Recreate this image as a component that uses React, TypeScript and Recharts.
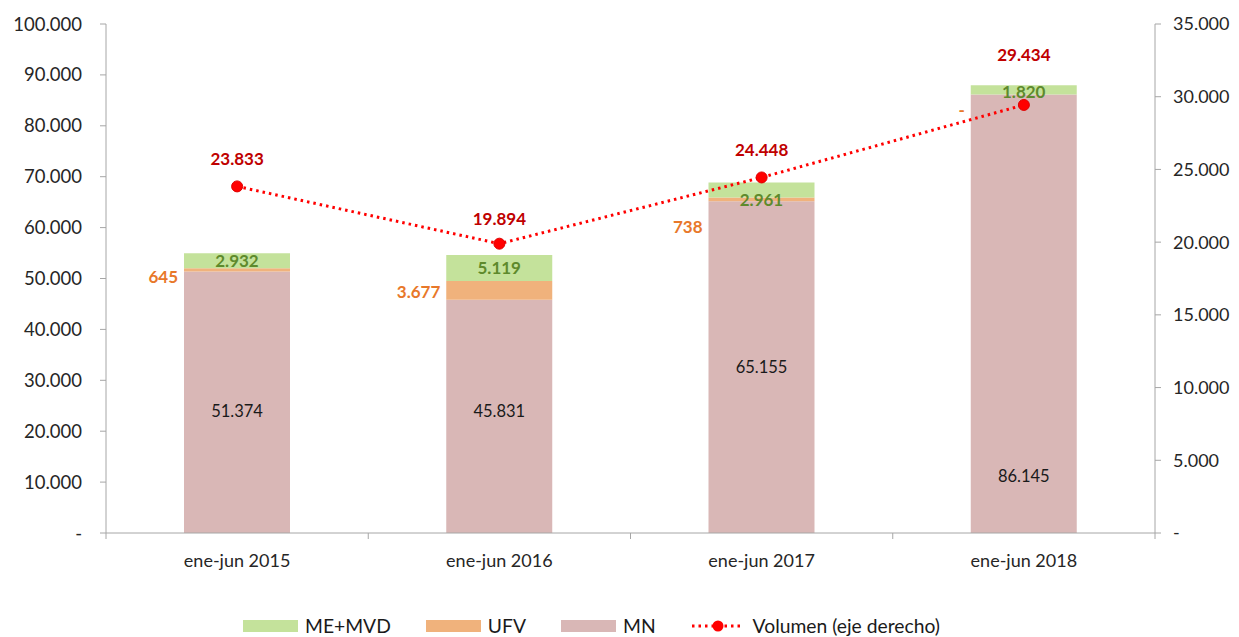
import { Bar, ComposedChart, LabelList, Line, XAxis, YAxis } from "recharts";

// Values
const periods = ["ene-jun 2015", "ene-jun 2016", "ene-jun 2017", "ene-jun 2018"];
const mn = [51374, 45831, 65155, 86145];
const ufv = [645, 3677, 738, 0];
const meMvd = [2932, 5119, 2961, 1820];
const volumen = [23833, 19894, 24448, 29434];

const leftTicks = [0, 10000, 20000, 30000, 40000, 50000, 60000, 70000, 80000, 90000, 100000];
const rightTicks = [0, 5000, 10000, 15000, 20000, 25000, 30000, 35000];

// label nudges (Excel had them dragged by hand)
const mnDy = [9, -5, 0, 162];
const ufvDy = [7, 2, 28, 15];
const meDy = [0, 0, 10, 2];
const volDy = [-27, -25, -27, -50];

const data = periods.map((p, i) => ({
  p,
  mn: mn[i],
  ufv: ufv[i],
  me: meMvd[i],
  vol: volumen[i],
}));

const FONT = "Lato, 'Open Sans', sans-serif";
const C_ME = "#C4E29B";
const C_UFV = "#F0B27C";
const C_MN = "#D9B7B6";
const AXIS = "#A6A6A6";

const W = 1231;
const H = 580;
const LEFT = 98;
const RIGHT_W = 84;
const BAND = (W - LEFT - RIGHT_W) / periods.length;

const fmt = (v: number) => (v === 0 ? "-" : String(v).replace(/\B(?=(\d{3})+(?!\d))/g, "."));

function CatTick(props: any) {
  const { x, y, payload, index } = props;
  return (
    <g>
      <line x1={x - BAND / 2} x2={x - BAND / 2} y1={y - 8} y2={y - 2} stroke={AXIS} />
      {index === periods.length - 1 && (
        <line x1={x + BAND / 2} x2={x + BAND / 2} y1={y - 8} y2={y - 2} stroke={AXIS} />
      )}
      <text x={x} y={y + 26} textAnchor="middle" fill="#262626" fontSize={18} fontFamily={FONT}>
        {payload.value}
      </text>
    </g>
  );
}

// MN bar labels, plus the UFV labels placed just above the MN segment
// (a zero-height UFV bar gets no label of its own)
function MnLabel(props: any) {
  const { x, y, width, height, value, index } = props;
  const pxPerUnit = height / mn[index];
  const ufvMid = y - (ufv[index] * pxPerUnit) / 2;
  return (
    <g>
      <text x={x + width / 2} y={y + height / 2 + mnDy[index]} dy={6} textAnchor="middle" fill="#1a1a1a" fontSize={16.5} fontFamily={FONT}>
        {fmt(value)}
      </text>
      <text x={x - 6} y={ufvMid + ufvDy[index]} dy={6} textAnchor="end" fill="#E8782A" fontSize={17} fontWeight="bold" fontFamily={FONT}>
        {fmt(ufv[index])}
      </text>
    </g>
  );
}

function MeLabel(props: any) {
  const { x, y, width, height, value, index } = props;
  return (
    <text x={x + width / 2} y={y + height / 2 + meDy[index]} dy={6} textAnchor="middle" fill="#5E8A2C" fontSize={17} fontWeight="bold" fontFamily={FONT}>
      {fmt(value)}
    </text>
  );
}

function VolLabel(props: any) {
  const { x, y, value, index } = props;
  return (
    <text x={x} y={y + volDy[index]} dy={6} textAnchor="middle" fill="#C00000" fontSize={17} fontWeight="bold" fontFamily={FONT}>
      {fmt(value)}
    </text>
  );
}

function LegendRow() {
  const item = { display: "flex", alignItems: "center", marginRight: 35 } as const;
  const sw = (c: string) => ({ width: 55, height: 12, background: c, marginRight: 7 });
  return (
    <div style={{ position: "absolute", left: 235, top: 606, display: "flex", fontFamily: FONT, fontSize: 19.3, color: "#1a1a1a" }}>
      <div style={item}><div style={sw(C_ME)} />ME+MVD</div>
      <div style={item}><div style={sw(C_UFV)} />UFV</div>
      <div style={item}><div style={sw(C_MN)} />MN</div>
      <div style={item}>
        <svg width={54} height={14} style={{ marginRight: 8 }}>
          <line x1={1} x2={53} y1={7} y2={7} stroke="#FF0000" strokeWidth={3} strokeDasharray="2.5 4" />
          <circle cx={27} cy={7} r={5.5} fill="#FF0000" />
        </svg>
        Volumen (eje derecho)
      </div>
    </div>
  );
}

export default function App() {
  return (
    <div style={{ position: "relative", width: W, height: 629 }}>
      <ComposedChart width={W} height={H} data={data} margin={{ top: 16, right: 0, bottom: 0, left: 0 }} barCategoryGap={0}>
        <XAxis dataKey="p" height={55} stroke={AXIS} tickLine={false} tick={<CatTick />} interval={0} />
        <YAxis
          yAxisId="left"
          width={LEFT}
          domain={[0, 100000]}
          ticks={leftTicks}
          tickFormatter={fmt}
          stroke={AXIS}
          tickSize={6}
          tickMargin={18}
          tick={{ fill: "#262626", fontSize: 18.5, fontFamily: FONT }}
        />
        <YAxis
          yAxisId="right"
          orientation="right"
          width={RIGHT_W}
          domain={[0, 35000]}
          ticks={rightTicks}
          tickFormatter={fmt}
          stroke={AXIS}
          tickSize={6}
          tickMargin={12}
          tick={{ fill: "#262626", fontSize: 18, fontFamily: FONT }}
        />
        <Bar yAxisId="left" dataKey="mn" stackId="a" fill={C_MN} barSize={106} isAnimationActive={false}>
          <LabelList dataKey="mn" content={<MnLabel />} />
        </Bar>
        <Bar yAxisId="left" dataKey="ufv" stackId="a" fill={C_UFV} barSize={106} isAnimationActive={false} />
        <Bar yAxisId="left" dataKey="me" stackId="a" fill={C_ME} barSize={106} isAnimationActive={false}>
          <LabelList dataKey="me" content={<MeLabel />} />
        </Bar>
        <Line
          yAxisId="right"
          dataKey="vol"
          stroke="#FF0000"
          strokeWidth={3}
          strokeDasharray="2.5 4"
          dot={{ r: 5.5, fill: "#FF0000", stroke: "#E00000", strokeWidth: 1, strokeDasharray: "" }}
          activeDot={false}
          isAnimationActive={false}
        >
          <LabelList dataKey="vol" content={<VolLabel />} />
        </Line>
      </ComposedChart>
      <LegendRow />
    </div>
  );
}
